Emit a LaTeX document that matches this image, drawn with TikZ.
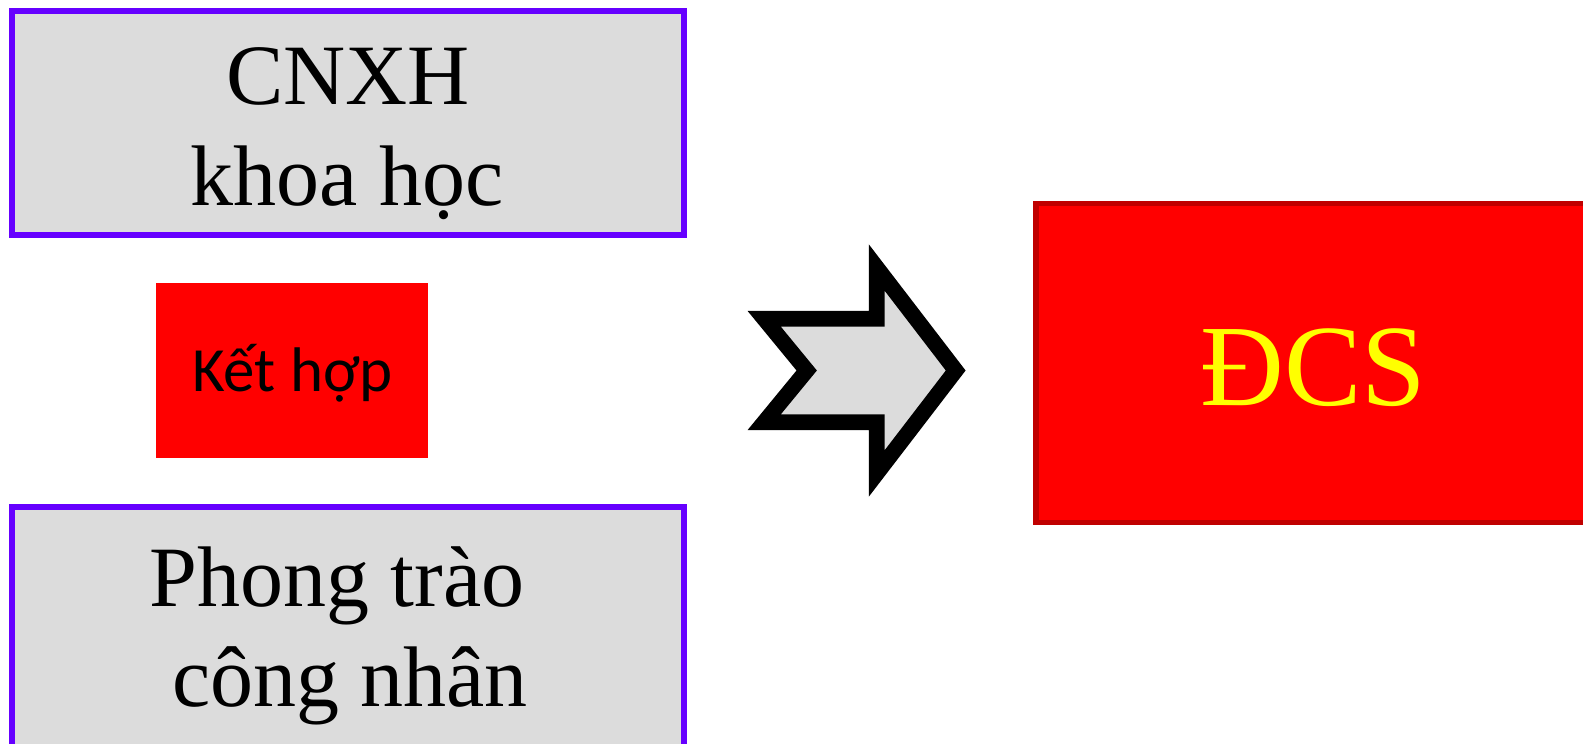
\documentclass[tikz,border=0pt]{standalone}
\usepackage{fontspec}
\setmainfont{Liberation Serif}
\newfontfamily\calfont{Carlito}
\definecolor{boxgray}{HTML}{DCDCDC}
\definecolor{boxpurple}{HTML}{6600FF}
\definecolor{pred}{HTML}{FF0000}
\definecolor{pdarkred}{HTML}{C00000}
\definecolor{pyellow}{HTML}{FFFF00}
\tikzset{
  graybox/.style={rectangle, draw=boxpurple, line width=6pt, fill=boxgray, inner sep=0pt, outer sep=0pt},
  bigtext/.style={inner sep=0pt, anchor=base, font=\fontsize{86}{100}\selectfont},
  redbox/.style={rectangle, fill=pred, inner sep=0pt, outer sep=0pt},
}
\begin{document}
\begin{tikzpicture}[x=1pt, y=-1pt]
\path[use as bounding box, clip] (0,0) rectangle (1583,744);
\fill[white] (0,0) rectangle (1583,744);
% top box
\node[graybox, minimum width=671.8pt, minimum height=224pt] (top) at (347.9,123) {};
\node[bigtext] (t1) at (348,104) {CNXH};
\node[bigtext] (t2) at (347,205) {khoa học};
% bottom box
\node[graybox, minimum width=671.8pt, minimum height=293pt] (bot) at (347.9,653.5) {};
\node[bigtext] (b1) at (337,606) {Phong trào};
\node[bigtext] (b2) at (350,706.7) {công nhân};
% Ket hop
\node[redbox, minimum width=271.7pt, minimum height=175.6pt] (kh) at (291.85,370.5) {};
\node[inner sep=0pt, anchor=base, font=\calfont\fontsize{63}{75}\selectfont] (khtext) at (292.5,391.7) {Kết hợp};
% arrow
\coordinate (a1) at (764.2,318.8);
\coordinate (a2) at (876.7,318.8);
\coordinate (a3) at (876.7,267.5);
\coordinate (a4) at (955.7,370.5);
\coordinate (a5) at (876.7,473.5);
\coordinate (a6) at (876.7,422.2);
\coordinate (a7) at (764.2,422.2);
\coordinate (a8) at (806.7,370.5);
\draw[line width=15.7pt, line join=miter, fill=boxgray, draw=black]
  (a1) -- (a2) -- (a3) -- (a4) -- (a5) -- (a6) -- (a7) -- (a8) -- cycle;
% DCS box
\node[rectangle, draw=pdarkred, line width=5.3pt, fill=pred, inner sep=0pt, minimum width=614pt, minimum height=319.2pt] (dcs) at (1343,362.9) {};
\node[inner sep=0pt, anchor=base, text=pyellow, font=\fontsize{116}{130}\selectfont] (dcstext) at (1313.5,405) {ĐCS};
\end{tikzpicture}
\end{document}
